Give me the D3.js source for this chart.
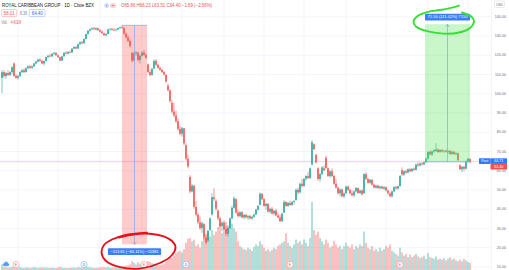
<!DOCTYPE html>
<html>
<head>
<meta charset="utf-8">
<script src="https://cdn.jsdelivr.net/npm/d3@7"></script>
<style>
body { margin: 0; background: #fff; }
svg { display: block; font-family: "Liberation Sans", Arial, sans-serif; }
</style>
</head>
<body>
<div id="chart-container"></div>
<script>
// daily bars
var opens = [
108,111,109,110.5,109.5,111,115.5,109,108,109,
111,112,111,113,114,113.2,114,115.5,116.5,117.5,
116.8,115.5,116.8,118.8,119.5,119.2,120.5,121,119.8,118.8,
117,119.2,121,120.6,121.5,121.2,123.2,124,123.3,125.5,
126.5,126,128.2,130.8,132.5,133.3,133.8,133.2,133.8,132.8,
132,131.2,130.2,130.8,133.2,133.5,133,132.8,133.2,133.9,
134.3,134,131,129,127.2,121,117,120.8,121.2,117.3,
119.5,121.2,120,115,111,109.5,112.8,116.8,114.8,113.2,
112.2,111,109.5,104,101.5,95,90.5,88.5,85.5,81.5,
79,81.8,73,66,56.5,49,52,41,37,33,
30,32,25,23.5,29,37,46,44,39,35,
31,32.8,29.5,27,30,35,40.5,45,38,36.2,
38.2,35.5,36.8,35.5,36.2,35,35.8,37,39.5,42,
47.8,45,41.5,42.5,38.5,40,37.5,39,36.5,35.5,
33.5,38,43.5,41.5,43,42,43.5,44.5,49.8,48.5,
53,51.8,55.5,57,56,63,73.5,68,61,55.5,
58,61,66.5,61,57,59.5,57,53,51,48,
50,46.5,48,51.5,49.8,48,47,49,50.8,48.2,
49.5,48,58,55.5,53.5,55,52.5,51,52,50.8,
51.5,50.5,51.2,49.5,48,46.5,49,51.2,50.5,51.8,
60,57.8,59.5,58.8,60.5,59.5,60.8,60.2,63,62.5,
63.5,63,64.2,66,69.5,68.2,69.8,70,70.8,69.5,
70.5,69.8,70.2,69.6,70,68.5,69.6,68.4,68.8,62.6,
60.5,61.8,60.8,64.6,65.86];

var highs = [
112,112,111,112,111.5,114,116,110,109.5,111.5,
112.5,113,113.5,114.5,114.8,114.5,115.8,117,118,118.2,
117.5,117,119,120,120.5,120.8,121.5,121.3,120.2,119,
119.5,121.5,122,121.8,122.3,123.5,124.5,124.6,125.8,127,
127.2,128.5,131,132.8,133.8,134.3,134.5,134.2,134,133.5,
132.8,131.5,131.2,133.5,134,134,133.8,133.6,134.2,134.6,
135.3,134.2,131.5,130,128,121.5,121.5,122,121.5,120,
121.8,122.5,120.5,115.5,112.3,113,117.5,117.8,115.2,113.8,
112.8,111.6,110,105,102,96.5,95,91,87,83,
82.5,82,74,68,57.5,53,52.5,44,38,36,
33.5,32.5,27,29,35.5,48,50.6,45,40,36,
33.5,34,31,30.5,35.5,41.5,46.5,45.5,39.5,38.8,
38.8,37.2,37.5,36.8,36.8,36.5,37.5,40,42,48.5,
48.2,45.5,43,43,40.5,41,39.5,40,38,37,
38,44.5,44,43.5,44.2,44,44.5,50.5,51,53.5,
55.5,56,57.5,59,61.5,75.6,74,68.5,61.5,58.5,
62,62.5,67.5,61.5,60,61,57.5,55.5,51.5,50.5,
50.5,48.5,52,52.2,50.5,49.5,49.5,51.2,51,49.8,
50,58.5,59,56,55.5,55.5,53,52.5,52.5,52,
52,51.8,51.5,50,48.5,49.5,51.8,52,52,57.5,
61.5,60,60.2,61,61.2,61,61.5,63.5,64.2,64,
64.2,64.5,66.5,70,70.5,70.2,71,74,71.5,71,
71.2,70.5,70.8,70.5,70.6,70.2,70,69.4,69.2,63.2,
62.2,62.2,65,66.5,66.23];

var lows = [
100,108,107.5,109,109,110,108.5,107.5,107,108.5,
110.5,110.5,110.8,112.5,112.8,112.6,113.5,115,116,116.3,
115,114.5,116.5,118,118.7,118.8,120,119.5,118.5,116.5,
116.8,119,120.3,120.2,120.8,121,122.8,122.8,123,125,
125.5,125.8,128,130.5,132,132.8,133,132.6,132.5,131.5,
130.8,129.8,129.5,130.5,132.5,132.6,132.3,132.2,132.8,133.2,
133.5,130.5,128.5,126.5,123.8,116,116.5,119.5,116.5,115.5,
119,119.5,117.8,110.5,108.8,109.2,112.5,114.2,112.8,111.6,
110.5,109.2,105.5,101,95,89.5,87.5,84.5,80.5,78,
77.5,73,65,61,48,48.5,40,36,32,29,
27.5,24,21.5,22.5,28.5,36.5,44,39,34,30.5,
28.5,29,26,25.5,29.5,34.5,40,37.5,35.5,35.5,
35,34.5,35,34.2,34.5,34.2,35.2,36.8,39,41.8,
44.5,41,39.5,38,37.5,37,36.5,36,35,33,
33.2,37.8,41,41,41.5,41.5,42.2,44.2,47.5,48,
51,51.5,54.5,55.5,55.5,62.5,70.5,63.5,54.5,54,
57.5,59.5,60.5,56.5,56,56.5,52.5,50.5,47.5,46.5,
46,45.5,47.8,49.2,47.5,46.5,46,48.5,47.8,47.5,
47,47.8,55,53,53,52,50.5,50.5,50.2,50,
50.2,49.8,49,47.5,46,45.8,48.5,50,50,51.5,
57,57,58.2,58.5,59,59,59.8,60,61.8,62,
62.5,62.8,63.8,65.5,67.8,67.5,69,69.5,69,69,
69.3,69,69.2,68.5,68,68,68,67.8,64.8,60.2,
59,59.5,60.5,64,63.51];

var closes = [
111,109,110.5,109.5,111,113.5,109,108,109,111,
112,111,113,114,113.2,114,115.5,116.5,117.5,116.8,
115.5,116.8,118.8,119.5,119.2,120.5,121,119.8,118.8,117,
119.2,121,120.6,121.5,121.2,123.2,124,123.3,125.5,126.5,
126,128.2,130.8,132.5,133.3,133.8,133.2,133.8,132.8,132,
131.2,130.2,130.8,133.2,133.5,133,132.8,133.2,133.9,134.3,
134,131,129,127.2,124.5,117,120.8,121.2,117.3,119.5,
121.2,120,118.5,111,109.5,112.8,116.8,114.8,113.2,112.2,
111,109.8,106,101.5,96,90.5,88.5,85.5,81.5,79,
81.8,74,66,62,49,52,41,37,33,30,
32.5,25,22.5,28.5,35,46,45,40,35,31,
32.8,29.5,27,30,35,40.5,45.5,38,36.2,38.2,
35.5,36.8,35.5,36.2,35,35.8,37,39.5,41.5,47.8,
45,41.5,42.5,38.5,40,37.5,39,36.5,35.5,33.5,
37.5,43.5,41.5,43,42,43.5,44,49.8,48.5,53,
51.8,55.5,57,56,61,74.5,71,64.2,55.5,58,
61.5,60,61.2,57,59.5,57,53,51,48,50,
46.5,48,51.5,49.8,48,47,49,50.8,48.2,49.5,
47.5,58,55.5,53.5,55,52.5,51,52,50.8,51.5,
50.5,51.2,49.5,48,46.5,49,51.2,50.5,51.8,57,
57.8,59.5,58.8,60.5,59.5,60.8,60.2,63,62.5,63.5,
63,64.2,66,69.5,68.2,69.8,70.5,70.8,69.5,70.5,
69.8,70.2,69.6,70,68.5,69.6,68.4,68.8,65.3,60.5,
61.8,60.8,64.6,66,64.40];

// volume in millions
var volumes = [
3.5,2,1.8,1.5,1.7,2,3,2.2,1.6,1.8,
1.5,1.4,1.7,1.6,1.3,1.5,1.8,1.6,1.4,1.5,
1.7,1.5,1.6,1.4,1.3,1.5,1.4,1.2,1.6,2,
1.5,1.4,1.3,1.2,1.4,1.6,1.5,1.3,1.8,1.7,
1.5,1.9,2.3,2,1.7,1.5,1.4,1.3,1.5,1.6,
1.7,1.9,1.6,2,1.5,1.4,1.6,1.5,1.3,1.6,
2.2,2.5,2.8,3,3.5,5.5,4.5,3.5,4.8,4,
3.5,3,3.2,5.5,5,4.2,4,3.5,3,3.2,
3.4,3.8,5,7,8,7.5,9,10.5,11.5,12,
11,13,17,19.5,20,18,19,15,16,14,
18,20,22,24,21,25,22,24,27,29,
23,26,30,28,31,29,26,24,18,15,
14,13,12.5,14,13,12,14.5,16,15,18,
16,14,12,13,11.5,12.5,14,13,15,16,
17,18,23,17,15,14,16,19,17,18,
16,19,17,15,20,42.5,25,22,24,20,
18,16,19,17,14,15,18,16,14,15,
13,15,17,15,14,16,13,15,14,16,
15,24,17,14,13,15,12,13,11.5,14,
12,13,15,14,16,12,11,10,9,14,
11,9,10,8,9.5,8,9,10,8.5,7.5,
8,9,7,10.5,8,7.5,7,8.5,6.5,7,
6.5,7.5,6,7,8,6.5,7,6,5.5,6.5,
5.5,7,6,5,4.431];

var priceTicks = [10, 20, 30, 40, 50, 60, 70, 80, 90, 100, 110, 120, 130, 140];
var monthBars = [8, 28, 49, 70, 90, 111, 131, 151, 172, 192, 213, 233];
var eventBars = [7, 41, 71, 92, 144, 199];
var eventTypes = ["E", "D", "E", "D", "E", "E"];

// the two measure drawings: bars and prices
var dropBars = [60, 72.5], dropPrices = [135.31, 21.50];
var riseBars = [211.5, 234], risePrices = [64.40, 135.90];
var dropLabel = "\u2212113.81 (\u221284.11%) \u221211381";
var riseLabel = "71.50 (111.02%) 7150";

var postPrice = 64.71, lastPrice = 64.40;

// legend line: text, colour role, width in px
var ohlcParts = [
	["O", "k", 3.4], ["65.86", "v", 10.95], ["H", "k", 3.16], ["66.23", "v", 10.95],
	["L", "k", 2.43], ["63.51", "v", 10.95], ["C", "k", 3.16], ["64.40", "v", 10.95],
	["\u22121.69 (\u22122.56%)", "v", 30.17]];

var width = 509, height = 270;
var green = "#26a69a", red = "#ef5350", blue = "#2962ff";

var svg = d3.select("#chart-container").append("svg")
	.attr("width", width)
	.attr("height", height);

var x = d3.scaleLinear().domain([0, 234]).range([2, 470]);
var y = d3.scaleLinear().domain([10, 140]).range([266.5, 16.3]);
var yVol = d3.scaleLinear().domain([0, 50]).range([270, 190]);

var bars = closes.map(function(c, i) {
	return {i: i, o: opens[i], h: highs[i], l: lows[i], c: c, v: volumes[i]};
});

// grid
svg.append("g").selectAll("line.h")
	.data(priceTicks).enter().append("line")
	.attr("x1", 0).attr("x2", 491)
	.attr("y1", function(d) { return y(d) + 0.5; })
	.attr("y2", function(d) { return y(d) + 0.5; })
	.attr("stroke", "#f0f3fa").attr("stroke-width", 0.8);

svg.append("g").selectAll("line.v")
	.data(monthBars).enter().append("line")
	.attr("x1", function(d) { return x(d); })
	.attr("x2", function(d) { return x(d); })
	.attr("y1", 0).attr("y2", height)
	.attr("stroke", "#f0f3fa").attr("stroke-width", 0.8);

// axis separator
svg.append("line")
	.attr("x1", 491.5).attr("x2", 491.5).attr("y1", 0).attr("y2", height)
	.attr("stroke", "#eceef3").attr("stroke-width", 0.6);

// volume
svg.append("g").selectAll("rect")
	.data(bars).enter().append("rect")
	.attr("x", function(d) { return x(d.i) - 0.7; })
	.attr("width", 1.4)
	.attr("y", function(d) { return yVol(d.v); })
	.attr("height", function(d) { return yVol(0) - yVol(d.v); })
	.attr("fill", function(d) { return d.c < d.o ? red : green; })
	.attr("opacity", 0.5);

// last price lines
svg.append("line")
	.attr("x1", 0).attr("x2", 491)
	.attr("y1", y(lastPrice)).attr("y2", y(lastPrice))
	.attr("stroke", red).attr("stroke-opacity", 0.3).attr("stroke-width", 0.6);
svg.append("line")
	.attr("x1", 0).attr("x2", 491)
	.attr("y1", y(postPrice)).attr("y2", y(postPrice))
	.attr("stroke", blue).attr("stroke-opacity", 0.2).attr("stroke-width", 0.6);

// candles
var candles = svg.append("g").selectAll("g")
	.data(bars).enter().append("g");

candles.append("line")
	.attr("x1", function(d) { return x(d.i); })
	.attr("x2", function(d) { return x(d.i); })
	.attr("y1", function(d) { return y(d.h); })
	.attr("y2", function(d) { return y(d.l); })
	.attr("stroke", function(d) { return d.c < d.o ? red : green; })
	.attr("stroke-width", 0.6);

candles.append("rect")
	.attr("x", function(d) { return x(d.i) - 0.75; })
	.attr("width", 1.5)
	.attr("y", function(d) { return y(Math.max(d.o, d.c)); })
	.attr("height", function(d) { return Math.max(0.6, Math.abs(y(d.o) - y(d.c))); })
	.attr("fill", function(d) { return d.c < d.o ? red : green; });

// measure drawings
function measure(barsX, prices, fill, label, labelAbove) {
	var x0 = x(barsX[0]), x1 = x(barsX[1]);
	var yStart = y(prices[0]), yEnd = y(prices[1]);
	var xm = (x0 + x1) / 2;
	var g = svg.append("g");
	g.append("rect")
		.attr("x", x0).attr("width", x1 - x0)
		.attr("y", Math.min(yStart, yEnd)).attr("height", Math.abs(yEnd - yStart))
		.attr("fill", fill);
	g.append("line")
		.attr("x1", x0).attr("x2", x1).attr("y1", yStart).attr("y2", yStart)
		.attr("stroke", "#7fa7ec").attr("stroke-width", 0.7);
	g.append("line")
		.attr("x1", xm).attr("x2", xm).attr("y1", yStart).attr("y2", yEnd)
		.attr("stroke", "#7fa7ec").attr("stroke-width", 0.7);
	var dir = yEnd > yStart ? -1 : 1;
	g.append("path")
		.attr("d", "M" + (xm - 1.8) + "," + (yEnd + dir * 2.6) + "L" + xm + "," + yEnd + "L" + (xm + 1.8) + "," + (yEnd + dir * 2.6))
		.attr("fill", "none").attr("stroke", "#7fa7ec").attr("stroke-width", 0.7);
	var lw = label.length * 2.05 + 4;
	var ly = labelAbove ? Math.min(yStart, yEnd) - 10.5 : Math.max(yStart, yEnd) + 3.8;
	g.append("rect")
		.attr("x", xm - lw / 2).attr("y", ly).attr("width", lw).attr("height", 6.8)
		.attr("rx", 0.8).attr("fill", "#3a80f2");
	g.append("text")
		.attr("x", xm).attr("y", ly + 4.8)
		.attr("text-anchor", "middle")
		.attr("font-size", 4).attr("fill", "#fff")
		.attr("textLength", lw - 5).attr("lengthAdjust", "spacingAndGlyphs")
		.text(label);
}
measure(dropBars, dropPrices, "rgba(255,82,82,0.3)", dropLabel, false);
measure(riseBars, risePrices, "rgba(76,230,76,0.3)", riseLabel, true);

// price axis
svg.append("g").selectAll("text")
	.data(priceTicks).enter().append("text")
	.attr("x", 506)
	.attr("y", function(d) { return y(d) + 1.7; })
	.attr("text-anchor", "end")
	.attr("font-size", 3.7)
	.attr("fill", "#6a6d78")
	.text(function(d) { return d.toFixed(2); });

// USD badge
svg.append("rect").attr("x", 494.5).attr("y", 1).attr("width", 10).attr("height", 6.5)
	.attr("rx", 1).attr("fill", "#fff").attr("stroke", "#d1d4dc").attr("stroke-width", 0.5);
svg.append("text").attr("x", 499.5).attr("y", 5.5).attr("text-anchor", "middle")
	.attr("font-size", 3.2).attr("fill", "#6a6d78").text("USD");

// post / last price labels
var yp = y(postPrice);
svg.append("rect").attr("x", 479).attr("y", yp - 2.9).attr("width", 11.5).attr("height", 5.6)
	.attr("rx", 0.6).attr("fill", "#2f7bf5");
svg.append("text").attr("x", 484.7).attr("y", yp + 1.2).attr("text-anchor", "middle")
	.attr("font-size", 3.5).attr("fill", "#fff").text("Post");
svg.append("rect").attr("x", 490.5).attr("y", yp - 2.9).attr("width", 16.5).attr("height", 5.6)
	.attr("fill", "#2f7bf5");
svg.append("text").attr("x", 498.7).attr("y", yp + 1.2).attr("text-anchor", "middle")
	.attr("font-size", 3.6).attr("fill", "#fff").text(postPrice.toFixed(2));
svg.append("rect").attr("x", 490.5).attr("y", yp + 2.7).attr("width", 16.5).attr("height", 5.6)
	.attr("fill", red);
svg.append("text").attr("x", 498.7).attr("y", yp + 6.6).attr("text-anchor", "middle")
	.attr("font-size", 3.6).attr("fill", "#fff").text(lastPrice.toFixed(2));

// earnings and dividend markers
var ev = svg.append("g").selectAll("g")
	.data(eventBars).enter().append("g")
	.attr("transform", function(d) { return "translate(" + x(d) + ",264.5)"; });
ev.append("circle").attr("r", 3.1)
	.attr("fill", "#fff")
	.attr("stroke", function(d, i) { return eventTypes[i] === "E" ? "#f5a3a3" : "#90b8f5"; })
	.attr("stroke-width", 0.7);
ev.append("text").attr("y", 1.3).attr("text-anchor", "middle")
	.attr("font-size", 3.6)
	.attr("fill", function(d, i) { return eventTypes[i] === "E" ? red : blue; })
	.text(function(d, i) { return eventTypes[i]; });

// little cloud icon
var cloud = svg.append("g").attr("fill", "#5b9ff0");
cloud.append("circle").attr("cx", 4.4).attr("cy", 264.6).attr("r", 1.5);
cloud.append("circle").attr("cx", 6.1).attr("cy", 263.5).attr("r", 1.9);
cloud.append("circle").attr("cx", 7.8).attr("cy", 264.7).attr("r", 1.4);
cloud.append("rect").attr("x", 4.4).attr("y", 264.5).attr("width", 3.4).attr("height", 1.6);

// header
var head = svg.append("g").attr("font-size", 5);
head.append("text").attr("x", 2).attr("y", 7.4).attr("fill", "#131722")
	.attr("textLength", 92).attr("lengthAdjust", "spacingAndGlyphs")
	.text("ROYAL CARIBBEAN GROUP \u00b7 1D \u00b7 Cboe BZX");
head.append("circle").attr("cx", 106.6).attr("cy", 5.6).attr("r", 2.6).attr("fill", "#dbe7fd");
head.append("path").attr("d", "M107.4,4.4L106,5.6L107.4,6.8").attr("fill", "none")
	.attr("stroke", "#2962ff").attr("stroke-width", 0.6);
head.append("rect").attr("x", 109.8).attr("y", 3).attr("width", 6.4).attr("height", 5.2)
	.attr("rx", 2.6).attr("fill", "#fcd6da");
head.append("line").attr("x1", 111.8).attr("x2", 114.2).attr("y1", 5.6).attr("y2", 5.6)
	.attr("stroke", red).attr("stroke-width", 0.7);

// OHLC legend, one text per part so nothing overlaps
var cx = 121;
ohlcParts.forEach(function(p, i) {
	if (p[1] === "k" && i > 0) cx += 1.22;
	if (i === ohlcParts.length - 1) cx += 1.22;
	head.append("text").attr("x", cx).attr("y", 7.4)
		.attr("fill", p[1] === "k" ? "#787b86" : red)
		.attr("textLength", p[2]).attr("lengthAdjust", "spacingAndGlyphs")
		.text(p[0]);
	cx += p[2];
});

head.append("rect").attr("x", 1.7).attr("y", 9.5).attr("width", 15).attr("height", 7)
	.attr("rx", 1).attr("fill", "#fff").attr("stroke", "#f7a8a8").attr("stroke-width", 0.6);
head.append("text").attr("x", 3.8).attr("y", 14.8).attr("fill", red)
	.attr("textLength", 10.8).attr("lengthAdjust", "spacingAndGlyphs").text("58.01");
head.append("text").attr("x", 20).attr("y", 14.8).attr("fill", "#787b86")
	.attr("textLength", 7).attr("lengthAdjust", "spacingAndGlyphs").text("6.39");
head.append("rect").attr("x", 29.3).attr("y", 9.5).attr("width", 15.7).attr("height", 7)
	.attr("rx", 1).attr("fill", "#fff").attr("stroke", "#9dbcf7").attr("stroke-width", 0.6);
head.append("text").attr("x", 31.7).attr("y", 14.8).attr("fill", blue)
	.attr("textLength", 11).attr("lengthAdjust", "spacingAndGlyphs").text("64.40");

head.append("text").attr("x", 1.5).attr("y", 24.4).attr("fill", "#787b86")
	.attr("textLength", 6).attr("lengthAdjust", "spacingAndGlyphs").text("Vol.");
head.append("text").attr("x", 10.7).attr("y", 24.4).attr("fill", red)
	.attr("textLength", 10.5).attr("lengthAdjust", "spacingAndGlyphs").text("4.431M");

// hand drawn circles
var pen = d3.line().curve(d3.curveCatmullRom.alpha(0.5));
var redLoop = [[119, 237.5], [135, 234.2], [150, 233.8], [163, 236.2], [172, 241], [175.5, 247],
	[172, 255], [160, 263], [140, 268.6], [120, 267.2], [106, 261], [101.6, 253], [104, 245],
	[112, 239.5], [125, 235.2], [140, 233.2], [147, 232.6]];
var greenLoop = [[462, 12.5], [471.5, 16.8], [474, 21], [470, 28], [458, 32.8], [443, 33.6],
	[427, 31.2], [416, 26.5], [413.5, 21.5], [418, 15.8], [428, 11.8], [442, 9.8], [452, 7.6], [459, 5.6]];
svg.append("path").attr("d", pen(redLoop))
	.attr("fill", "none").attr("stroke", "#e8111b").attr("stroke-width", 1.9)
	.attr("stroke-linecap", "round");
svg.append("path").attr("d", pen(greenLoop))
	.attr("fill", "none").attr("stroke", "#35e035").attr("stroke-width", 1.9)
	.attr("stroke-linecap", "round");
</script>
</body>
</html>
